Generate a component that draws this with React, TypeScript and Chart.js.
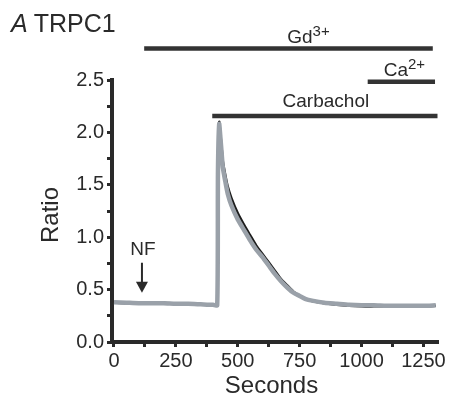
import React, { useEffect, useRef } from "react";
import { Chart, registerables } from "chart.js";

Chart.register(...registerables);

// ---- data ----
const times = [0, 50, 100, 150, 200, 250, 300, 350, 400, 417, 420, 425, 430, 435, 440, 450, 460, 475, 500, 525, 550, 575, 600, 625, 650, 675, 700, 725, 750, 775, 800, 850, 900, 950, 1000, 1050, 1100, 1150, 1200, 1250, 1300];
const grayTrace = [0.38, 0.375, 0.37, 0.37, 0.37, 0.365, 0.365, 0.36, 0.355, 0.35, 1.6, 2.08, 1.95, 1.8, 1.66, 1.53, 1.41, 1.3, 1.17, 1.07, 0.97, 0.88, 0.81, 0.73, 0.65, 0.58, 0.52, 0.47, 0.44, 0.41, 0.395, 0.375, 0.365, 0.355, 0.35, 0.35, 0.345, 0.345, 0.345, 0.345, 0.35];
const blackTrace = [0.375, 0.37, 0.37, 0.37, 0.375, 0.365, 0.36, 0.36, 0.355, 0.35, 1.6, 2.1, 1.98, 1.85, 1.72, 1.59, 1.48, 1.37, 1.23, 1.12, 1.02, 0.92, 0.84, 0.76, 0.68, 0.6, 0.54, 0.48, 0.44, 0.41, 0.39, 0.37, 0.355, 0.345, 0.34, 0.34, 0.34, 0.34, 0.34, 0.34, 0.345];

const treatmentNames = ["Gd", "Ca", "Carbachol"];
const treatmentSup = ["3+", "2+", ""];
const treatmentStart = [122, 1025, 397];
const treatmentEnd = [1288, 1297, 1307];
const treatmentLevel = [2.8, 2.484, 2.156];

const nfTime = 113;
const nfLevel = 0.47;

const xTickMin = -8;
const xTickMax = 1305;
const yMin = 0;
const yMax = 2.5;

const FONT = '"Liberation Sans", Arial, Helvetica, sans-serif';
const INK = "#2a2a2a";

// label placement (layout only)
const labelShiftX = [20, 3, 1];
const labelLift = [6, 6, 9];

export default function App() {
  const ref = useRef<HTMLCanvasElement | null>(null);

  useEffect(() => {
    if (!ref.current) return;

    const annot = {
      id: "annot",
      afterDatasetsDraw(chart: any) {
        const ctx = chart.ctx;
        const xs = chart.scales.x;
        const ys = chart.scales.y;
        const ca = chart.chartArea;
        ctx.save();
        ctx.fillStyle = INK;
        // title
        ctx.textBaseline = "alphabetic";
        ctx.textAlign = "left";
        ctx.font = `italic 25px ${FONT}`;
        ctx.fillText("A", 11, 32);
        const aW = ctx.measureText("A").width;
        ctx.font = `25px ${FONT}`;
        ctx.fillText("TRPC1", 11 + aW + 6, 32);

        // treatment labels
        for (let i = 0; i < treatmentNames.length; i++) {
          const x1 = xs.getPixelForValue(treatmentStart[i]);
          const x2 = xs.getPixelForValue(treatmentEnd[i]);
          const y = ys.getPixelForValue(treatmentLevel[i]);
          ctx.font = `19px ${FONT}`;
          const mw = ctx.measureText(treatmentNames[i]).width;
          ctx.font = `15px ${FONT}`;
          const sw = treatmentSup[i] ? ctx.measureText(treatmentSup[i]).width : 0;
          const total = mw + sw;
          const cx = (x1 + x2) / 2 + labelShiftX[i];
          const sx = cx - total / 2;
          const by = y - labelLift[i];
          ctx.textAlign = "left";
          ctx.font = `19px ${FONT}`;
          ctx.fillText(treatmentNames[i], sx, by);
          if (treatmentSup[i]) {
            ctx.font = `15px ${FONT}`;
            ctx.fillText(treatmentSup[i], sx + mw, by - 7);
          }
        }

        // NF arrow
        const ax = xs.getPixelForValue(nfTime);
        const tip = ys.getPixelForValue(nfLevel);
        ctx.strokeStyle = INK;
        ctx.lineWidth = 2;
        ctx.beginPath();
        ctx.moveTo(ax, tip - 30);
        ctx.lineTo(ax, tip - 8);
        ctx.stroke();
        ctx.beginPath();
        ctx.moveTo(ax - 6, tip - 11);
        ctx.lineTo(ax + 6, tip - 11);
        ctx.lineTo(ax, tip);
        ctx.closePath();
        ctx.fill();
        ctx.font = `19px ${FONT}`;
        ctx.textAlign = "center";
        ctx.fillText("NF", ax + 1, tip - 38);

        // axis titles
        ctx.font = `24px ${FONT}`;
        ctx.textAlign = "center";
        ctx.fillText("Seconds", (ca.left + ca.right) / 2 - 3, 393);
        ctx.save();
        ctx.translate(58, (ca.top + ca.bottom) / 2 + 4);
        ctx.rotate(-Math.PI / 2);
        ctx.fillText("Ratio", 0, 0);
        ctx.restore();
        ctx.restore();
      },
    };

    const treatmentSets = treatmentNames.map((_, i) => ({
      label: treatmentNames[i],
      data: [
        { x: treatmentStart[i], y: treatmentLevel[i] },
        { x: treatmentEnd[i], y: treatmentLevel[i] },
      ],
      borderColor: "#333333",
      borderWidth: 4.5,
      pointRadius: 0,
      clip: false as any,
      order: 0,
    }));

    const chart = new Chart(ref.current, {
      type: "line",
      data: {
        datasets: [
          {
            label: "gray",
            data: times.map((t, i) => ({ x: t, y: grayTrace[i] })),
            borderColor: "#9aa1a9",
            borderWidth: 4.5,
            pointRadius: 0,
            tension: 0.2,
            order: 1,
          },
          {
            label: "black",
            data: times.map((t, i) => ({ x: t, y: blackTrace[i] })),
            borderColor: "#1c1c1c",
            borderWidth: 2.5,
            pointRadius: 0,
            tension: 0.2,
            order: 2,
          },
          ...treatmentSets,
        ],
      },
      plugins: [annot],
      options: {
        animation: false,
        responsive: true,
        maintainAspectRatio: false,
        layout: { padding: { left: 0, top: 80, right: 17, bottom: 0 } },
        plugins: { legend: { display: false }, tooltip: { enabled: false }, title: { display: false } },
        scales: {
          x: {
            type: "linear",
            min: xTickMin,
            max: xTickMax,
            afterFit: (s: any) => {
              s.height = 59;
            },
            border: { display: true, width: 4, color: INK },
            grid: { display: true, drawOnChartArea: false, drawTicks: true, tickLength: 5, lineWidth: 3, color: INK },
            ticks: {
              stepSize: 125,
              includeBounds: false,
              maxRotation: 0,
              autoSkip: false,
              padding: 2,
              color: INK,
              font: { family: FONT, size: 20 },
              callback: (v: any) => (Math.round(v) % 250 === 0 ? String(Math.round(v)) : ""),
            },
          },
          y: {
            min: yMin,
            max: yMax,
            afterFit: (s: any) => {
              s.width = 112;
            },
            border: { display: true, width: 4, color: INK },
            grid: { display: true, drawOnChartArea: false, drawTicks: true, tickLength: 5, lineWidth: 3, color: INK },
            ticks: {
              stepSize: 0.25,
              includeBounds: false,
              autoSkip: false,
              padding: 3,
              color: INK,
              font: { family: FONT, size: 20 },
              callback: (v: any) => {
                const d = v * 2;
                return Math.abs(d - Math.round(d)) < 1e-6 ? Number(v).toFixed(1) : "";
              },
            },
          },
        },
      },
    } as any);

    return () => chart.destroy();
  }, []);

  return (
    <div style={{ position: "fixed", left: 0, top: 0, width: 454, height: 401, background: "#fff" }}>
      <canvas ref={ref} />
    </div>
  );
}
